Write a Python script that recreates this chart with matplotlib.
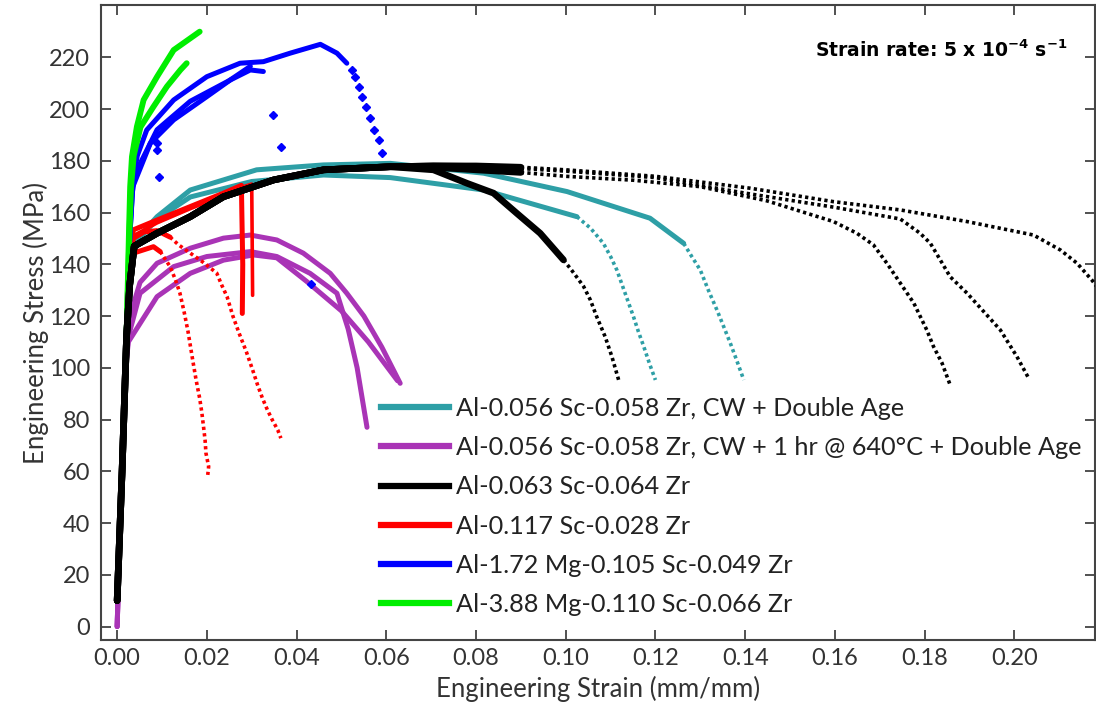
import matplotlib
matplotlib.use("Agg")
import matplotlib.pyplot as plt
from matplotlib.lines import Line2D

plt.rcParams["font.family"] = ["Lato", "DejaVu Sans"]

TEAL = "#2E9FA6"
PURPLE = "#A934B6"
BLACK = "#000000"
RED = "#FF0000"
BLUE = "#0000FF"
GREEN = "#00EE00"

legend_labels = [
    "Al-0.056 Sc-0.058 Zr, CW + Double Age",
    "Al-0.056 Sc-0.058 Zr, CW + 1 hr @ 640°C + Double Age",
    "Al-0.063 Sc-0.064 Zr",
    "Al-0.117 Sc-0.028 Zr",
    "Al-1.72 Mg-0.105 Sc-0.049 Zr",
    "Al-3.88 Mg-0.110 Sc-0.066 Zr",
]

x_ticks = [0.00, 0.02, 0.04, 0.06, 0.08, 0.10, 0.12, 0.14, 0.16, 0.18, 0.20]
y_ticks = [0, 20, 40, 60, 80, 100, 120, 140, 160, 180, 200, 220]

# shared elastic loading segment
elastic_strain = [0.0, 0.0011, 0.0021]
elastic_stress = [10, 60, 112]

# Al-0.056Sc-0.058Zr, CW + double age (teal)
teal_a_strain = [0.0030, 0.0045, 0.0089, 0.0163, 0.0311, 0.046, 0.0609, 0.0817, 0.1003, 0.1188, 0.1263]
teal_a_stress = [138, 150, 158.4, 168.7, 176.5, 178.4, 179.0, 175.2, 168.1, 157.8, 148.1]
teal_a_tail_strain = [0.1263, 0.1281, 0.1300, 0.1318, 0.1337, 0.1352, 0.1367, 0.1382, 0.1397]
teal_a_tail_stress = [148.1, 143.0, 137.8, 130.0, 122.4, 116.0, 109.5, 102.5, 95.3]
teal_b_strain = [0.0030, 0.0045, 0.0089, 0.0163, 0.0300, 0.046, 0.0609, 0.0817, 0.1025]
teal_b_stress = [138, 149, 157.5, 166.0, 172.0, 174.5, 173.5, 168.7, 158.4]
teal_b_tail_strain = [0.1025, 0.1055, 0.1084, 0.1100, 0.1114, 0.1130, 0.1151, 0.1162, 0.1174,
                      0.1187, 0.1200]
teal_b_tail_stress = [158.4, 154.0, 148.1, 143.0, 137.8, 130.0, 119.8, 114.0, 108.2,
                      101.5, 95.3]

# Al-0.056Sc-0.058Zr, CW + 1 hr @ 640C + double age (purple)
purple_a_strain = [0.0, 0.0005, 0.0011, 0.0019, 0.0025, 0.0051, 0.0089, 0.0163, 0.0237, 0.0297,
                   0.0356, 0.0415, 0.0475, 0.0512, 0.0550, 0.0590, 0.0631]
purple_a_stress = [0, 30, 60, 100, 118, 133.0, 140.4, 146.2, 150.1, 151.3,
                   149.4, 144.3, 136.5, 128.8, 120.0, 108.0, 94.0]
purple_b_strain = [0.0, 0.0005, 0.0011, 0.0019, 0.0025, 0.0051, 0.0126, 0.0200, 0.0297, 0.0356,
                   0.0430, 0.0490, 0.0515, 0.0535, 0.0557]
purple_b_stress = [0, 30, 60, 100, 112, 128.8, 139.1, 143.0, 144.9, 143.0,
                   136.5, 128.8, 115.0, 100.0, 77.0]
purple_c_strain = [0.0, 0.0005, 0.0011, 0.0019, 0.0025, 0.0089, 0.0163, 0.0237, 0.0304, 0.0356,
                   0.0423, 0.0500, 0.0560, 0.0625]
purple_c_stress = [0, 30, 60, 100, 110, 127.5, 136.5, 141.6, 143.6, 142.5,
                   133.3, 122.0, 110.0, 95.0]

# Al-0.063Sc-0.064Zr (black)
black_common_strain = [0.0028, 0.0038, 0.0089, 0.0163, 0.0237, 0.0349, 0.046, 0.0609]
black_common_stress = [132, 147, 152.0, 158.4, 166.1, 172.6, 176.5, 177.7]
black_a_strain = [0.0705, 0.0780, 0.0839, 0.0891, 0.0943, 0.0995]
black_a_stress = [176.5, 171.3, 167.5, 159.7, 152.0, 141.7]
black_a_tail_strain = [0.0995, 0.1012, 0.1027, 0.1040, 0.1055, 0.1069, 0.1088, 0.1103, 0.1118]
black_a_tail_stress = [141.7, 138.0, 134.5, 131.4, 126.2, 119.8, 112.0, 104.3, 95.3]
black_b_strain = [0.0705, 0.0800, 0.0900]
black_b_stress = [177.5, 176.5, 175.5]
black_b_tail_strain = [0.0900, 0.1000, 0.1150, 0.1300, 0.1449, 0.1597, 0.1649, 0.1686, 0.1716,
                       0.1746, 0.1776, 0.1805, 0.1820, 0.1839, 0.1857]
black_b_tail_stress = [175.5, 174.0, 172.5, 170.0, 164.5, 156.5, 152.0, 147.5, 140.4,
                       132.7, 125.0, 114.6, 108.2, 101.8, 93.4]
black_c_strain = [0.0705, 0.0800, 0.0900]
black_c_stress = [178.0, 177.8, 177.0]
black_c_tail_strain = [0.0900, 0.1000, 0.1200, 0.1400, 0.1600, 0.1746, 0.1790, 0.1813, 0.1835,
                       0.1857, 0.1895, 0.1932, 0.1969, 0.2006, 0.2032]
black_c_tail_stress = [177.0, 176.0, 173.5, 167.5, 162.0, 157.5, 152.0, 148.1, 141.7,
                       135.2, 128.8, 121.7, 114.6, 104.3, 96.0]
black_d_strain = [0.0705, 0.0800, 0.0900]
black_d_stress = [178.0, 178.0, 177.5]
black_d_tail_strain = [0.0900, 0.1000, 0.1200, 0.1411, 0.1597, 0.1746, 0.1895, 0.2043, 0.2103,
                       0.2140, 0.2173, 0.2190]
black_d_tail_stress = [177.5, 176.5, 174.0, 169.4, 164.2, 161.0, 156.5, 151.3, 145.5,
                       140.4, 133.9, 130.0]

# Al-0.117Sc-0.028Zr (red)
red_a_strain = [0.0028, 0.0036, 0.0089, 0.0163, 0.0237, 0.0277, 0.0278, 0.0280, 0.0279]
red_a_stress = [140, 153.3, 157.1, 162.3, 167.5, 170.5, 160.0, 140.0, 121.0]
red_b_strain = [0.0028, 0.0036, 0.0089, 0.0163, 0.0237, 0.0282, 0.0300, 0.0301, 0.0302]
red_b_stress = [138, 151.0, 156.0, 161.5, 166.5, 170.0, 171.0, 150.0, 128.0]
red_c_strain = [0.0028, 0.0036, 0.0060, 0.0089, 0.0118]
red_c_stress = [138, 150.0, 152.5, 153.0, 150.5]
red_c_tail_strain = [0.0118, 0.0137, 0.0163, 0.0190, 0.0222, 0.0233, 0.0245, 0.0258, 0.0272,
                     0.0288, 0.0302, 0.0313, 0.0324, 0.0335, 0.0346, 0.0358, 0.0365]
red_c_tail_stress = [150.5, 147.5, 144.3, 141.0, 136.6, 132.0, 127.5, 120.0, 113.3,
                     106.2, 99.2, 93.4, 88.2, 83.7, 79.8, 76.0, 72.8]
red_d_strain = [0.0028, 0.0036, 0.0081, 0.0096]
red_d_stress = [130, 144.3, 146.8, 144.9]
red_d_tail_strain = [0.0096, 0.0118, 0.0130, 0.0140, 0.0150, 0.0158, 0.0169, 0.0176,
                     0.0184, 0.0189, 0.0193, 0.0196, 0.0198, 0.0204, 0.0202]
red_d_tail_stress = [144.9, 139.1, 134.0, 128.8, 121.0, 114.0, 102.4, 95.3,
                     88.2, 82.4, 76.6, 72.1, 67.0, 61.8, 58.6]

# Al-1.72Mg-0.105Sc-0.049Zr (blue)
blue_a_strain = [0.0028, 0.0033, 0.0045, 0.0066, 0.0126, 0.0200, 0.0274, 0.0326, 0.0386, 0.0453,
                 0.0490, 0.0512]
blue_a_stress = [150, 170, 182.0, 191.9, 203.5, 212.5, 217.7, 218.3, 221.6, 225.0,
                 221.6, 217.7]
blue_a_tail_strain = [0.0523, 0.0531, 0.0539, 0.0546, 0.0555, 0.0564, 0.0572, 0.0583, 0.0590]
blue_a_tail_stress = [215.1, 212.5, 208.5, 204.8, 200.9, 196.4, 191.9, 188.1, 182.9]
blue_b_strain = [0.0028, 0.0035, 0.0074, 0.0126, 0.0200, 0.0252, 0.0297, 0.0326]
blue_b_stress = [150, 170, 186.8, 195.8, 204.8, 211.2, 215.1, 214.5]
blue_c_strain = [0.0028, 0.0034, 0.0040, 0.0089, 0.0163, 0.0250, 0.0297]
blue_c_stress = [150, 168, 175.0, 192.0, 203.0, 211.0, 216.5]
blue_stray_strain = [0.0088, 0.0088, 0.0094, 0.0347, 0.0366, 0.0432]
blue_stray_stress = [186.8, 184.3, 173.9, 197.7, 185.5, 132.4]

# Al-3.88Mg-0.110Sc-0.066Zr (green)
green_a_strain = [0.0026, 0.0029, 0.0033, 0.0044, 0.0059, 0.0089, 0.0126, 0.0184]
green_a_stress = [150, 170, 181.6, 193.2, 203.5, 212.5, 222.8, 229.9]
green_b_strain = [0.0027, 0.0031, 0.0037, 0.0052, 0.0081, 0.0111, 0.0141, 0.0155]
green_b_stress = [150, 170, 182.0, 193.0, 200.9, 208.7, 215.1, 217.7]


def draw_curve(ax, color, strain, stress, tail_strain=None, tail_stress=None, z=2, lw=3.6):
    ax.plot(strain, stress, color=color, lw=lw, solid_capstyle="round",
            solid_joinstyle="round", zorder=z)
    if tail_strain is not None:
        ax.plot(tail_strain, tail_stress, color=color, lw=2.6, ls=(0, (0.9, 0.9)),
                zorder=z)


fig = plt.figure(figsize=(10.96, 7.10), dpi=100)
ax = fig.add_axes([101 / 1096, 1 - 640 / 710, (1095 - 101) / 1096, (640 - 5) / 710])

draw_curve(ax, TEAL, elastic_strain + teal_a_strain, elastic_stress + teal_a_stress,
           teal_a_tail_strain, teal_a_tail_stress, z=2)
draw_curve(ax, TEAL, elastic_strain + teal_b_strain, elastic_stress + teal_b_stress,
           teal_b_tail_strain, teal_b_tail_stress, z=2)

draw_curve(ax, PURPLE, purple_a_strain, purple_a_stress, z=3)
draw_curve(ax, PURPLE, purple_b_strain, purple_b_stress, z=3)
draw_curve(ax, PURPLE, purple_c_strain, purple_c_stress, z=3)

draw_curve(ax, RED, elastic_strain + red_a_strain, elastic_stress + red_a_stress, z=4)
draw_curve(ax, RED, elastic_strain + red_b_strain, elastic_stress + red_b_stress, z=4, lw=2.6)
draw_curve(ax, RED, elastic_strain + red_c_strain, elastic_stress + red_c_stress,
           red_c_tail_strain, red_c_tail_stress, z=4)
draw_curve(ax, RED, elastic_strain + red_d_strain, elastic_stress + red_d_stress,
           red_d_tail_strain, red_d_tail_stress, z=4)

draw_curve(ax, BLUE, elastic_strain + blue_a_strain, elastic_stress + blue_a_stress, z=5)
ax.plot(blue_a_tail_strain, blue_a_tail_stress, ls="none", marker="D", ms=4, color=BLUE, zorder=5)
draw_curve(ax, BLUE, elastic_strain + blue_b_strain, elastic_stress + blue_b_stress, z=5)
draw_curve(ax, BLUE, elastic_strain + blue_c_strain, elastic_stress + blue_c_stress, z=5)
ax.plot(blue_stray_strain, blue_stray_stress, ls="none", marker="D", ms=4, color=BLUE, zorder=5)

draw_curve(ax, GREEN, elastic_strain + green_a_strain, elastic_stress + green_a_stress, z=6, lw=4.2)
draw_curve(ax, GREEN, elastic_strain + green_b_strain, elastic_stress + green_b_stress, z=6, lw=4.2)

black_base_strain = elastic_strain + black_common_strain
black_base_stress = elastic_stress + black_common_stress
draw_curve(ax, BLACK, black_base_strain + black_a_strain, black_base_stress + black_a_stress,
           black_a_tail_strain, black_a_tail_stress, z=7, lw=4.8)
draw_curve(ax, BLACK, black_base_strain + black_b_strain, black_base_stress + black_b_stress,
           black_b_tail_strain, black_b_tail_stress, z=7, lw=4.8)
draw_curve(ax, BLACK, black_base_strain + black_c_strain, black_base_stress + black_c_stress,
           black_c_tail_strain, black_c_tail_stress, z=7, lw=4.8)
draw_curve(ax, BLACK, black_base_strain + black_d_strain, black_base_stress + black_d_stress,
           black_d_tail_strain, black_d_tail_stress, z=7, lw=4.8)

ax.set_xlim(-0.0036, 0.218)
ax.set_ylim(-5.2, 240.2)
ax.set_xticks(x_ticks)
ax.set_xticklabels(["%.2f" % t for t in x_ticks])
ax.set_yticks(y_ticks)
ax.tick_params(direction="in", length=7, width=1.2, top=True, right=True,
               labelsize=17, colors="#333333", pad=6)
ax.tick_params(axis="y", pad=8)
for spine in ax.spines.values():
    spine.set_color("#444444")
    spine.set_linewidth(1.5)

ax.set_xlabel("Engineering Strain (mm/mm)", fontsize=18.5, color="#333333", labelpad=5)
ax.set_ylabel("Engineering Stress (MPa)", fontsize=18.5, color="#333333", labelpad=0)

ax.text(0.972, 0.929, r"Strain rate: 5 x 10$^{\mathbf{-4}}$ s$^{\mathbf{-1}}$",
        transform=ax.transAxes, ha="right", va="center", fontsize=13.5,
        fontweight="bold", family="DejaVu Sans")

handles = [Line2D([0], [0], color=c, lw=4.5)
           for c in [TEAL, PURPLE, BLACK, RED, BLUE, GREEN]]
ax.legend(handles, legend_labels, loc="upper left", bbox_to_anchor=(381 / 1096, 1 - 397 / 710),
          bbox_transform=fig.transFigure, frameon=False, fontsize=18.2, handlelength=2.7,
          handletextpad=0.25, labelspacing=0.64, borderpad=0, borderaxespad=0,
          labelcolor="#222222")

fig.savefig("out.png", dpi=100)
